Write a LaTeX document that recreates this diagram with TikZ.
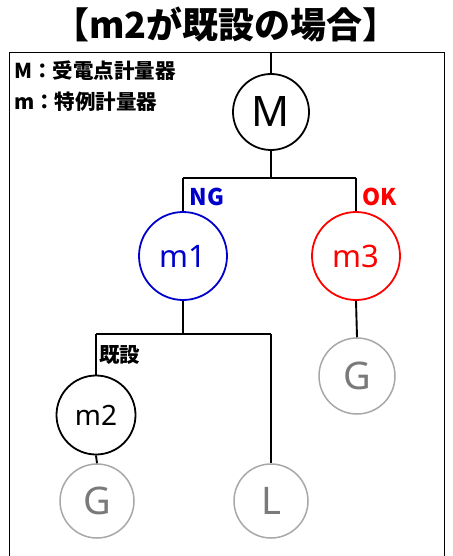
\documentclass[tikz,border=0pt]{standalone}
\usepackage{fontspec}
\setmainfont{Noto Sans}
\newfontfamily\cjkfont{Noto Sans CJK JP}
\definecolor{ngblue}{HTML}{0000CC}
\definecolor{okred}{HTML}{FF0000}
\definecolor{gline}{HTML}{A8A8A8}
\definecolor{gtext}{HTML}{7A7A7A}
\begin{document}
\begin{tikzpicture}[x=1pt,y=-1pt,
  meter/.style={circle,draw,line width=1.8pt,inner sep=0pt,fill=white},
  gray meter/.style={circle,draw=gline,line width=1.5pt,inner sep=0pt,text=gtext,fill=white},
  wire/.style={line width=1.9pt},
  frame/.style={line width=1pt},
  tag/.style={inner sep=0pt,font=\cjkfont\bfseries\fontsize{23}{23}\selectfont},
  jtag/.style={inner sep=0pt,font=\cjkfont\bfseries\fontsize{20.5}{20.5}\selectfont}]
\useasboundingbox (0,0) rectangle (452,556);
% title
\node[inner sep=0pt,font=\cjkfont\bfseries\fontsize{36}{36}\selectfont] (title) at (226,24) {【m2が既設の場合】};
% frame
\coordinate (fbl) at (9,556);
\coordinate (ftl) at (9,53);
\coordinate (ftr) at (444,53);
\coordinate (fbr) at (444,556);
\draw[frame] (fbl) -- (ftl) -- (ftr) -- (fbr);
% legend
\node[jtag,anchor=west] (leg1) at (14,71) {M：受電点計量器};
\node[jtag,anchor=west] (leg2) at (14,102) {m：特例計量器};
% meters
\node[meter,minimum size=76pt,font=\fontsize{42}{42}\selectfont] (M) at (271,112) {M};
\node[meter,draw=ngblue,text=ngblue,minimum size=88pt,font=\fontsize{31}{31}\selectfont] (m1) at (183,256) {m1};
\node[meter,draw=okred,text=okred,minimum size=88pt,font=\fontsize{31}{31}\selectfont] (m3) at (356,256) {m3};
\node[gray meter,minimum size=76pt,font=\fontsize{38}{38}\selectfont] (Gr) at (357,376) {G};
\node[meter,minimum size=79pt,font=\fontsize{28}{28}\selectfont] (m2) at (96,415) {m2};
\node[gray meter,minimum size=74pt,font=\fontsize{38}{38}\selectfont] (Gb) at (97,501) {G};
\node[gray meter,minimum size=74pt,font=\fontsize{38}{38}\selectfont] (L) at (271,501) {L};
% wiring
\coordinate (top) at (271,53);
\coordinate (j1l) at (183,178);
\coordinate (j1r) at (356,178);
\coordinate (j2l) at (96,334);
\coordinate (j2r) at (271,334);
\draw[wire] (top) -- (M.north);
\draw[wire] (M.south) -- (M.south |- j1l);
\draw[wire] (j1l) -- (j1r);
\draw[wire] (j1l) -- (m1.north);
\draw[wire] (j1r) -- (m3.north);
\draw[wire] (m1.south) -- (m1.south |- j2l);
\draw[wire] (j2l) -- (j2r);
\draw[wire] (j2l) -- (m2.north);
\draw[wire] (j2r) -- (L.north);
\draw[wire] (m3.south) -- (Gr.north);
\draw[wire] (m2.south) -- (Gb.north);
% labels
\node[tag,text=ngblue] (ng) at (207,197) {NG};
\node[tag,text=okred] (ok) at (380,197) {OK};
\node[jtag,anchor=west] (kisetsu) at (99,355) {既設};
\end{tikzpicture}
\end{document}
